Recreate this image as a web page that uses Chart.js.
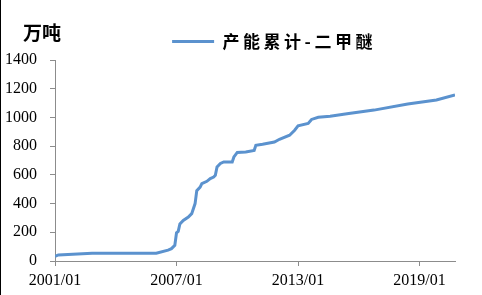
<!DOCTYPE html>
<html>
<head>
<meta charset="utf-8">
<script src="https://cdn.jsdelivr.net/npm/chart.js@4"></script>
<style>
html,body{margin:0;padding:0;background:#fff;}
#wrap{width:482px;height:295px;position:relative;}
</style>
</head>
<body>
<div id="wrap"><canvas id="c" width="482" height="295"></canvas></div>
<script>
const unitLabel = '万吨';
const seriesName = '产能累计-二甲醚';
const startDate = '2001/01';
const endDate = '2020/10';
const xTickLabels = ['2001/01', '2007/01', '2013/01', '2019/01'];
const yTickValues = [0, 200, 400, 600, 800, 1000, 1200, 1400];

const dates = [
  '2001/01','2001/03','2002/11','2006/01','2006/08','2006/10','2006/12',
  '2007/01','2007/02','2007/03','2007/05','2007/08','2007/10','2007/12',
  '2008/01','2008/03','2008/04','2008/07','2008/09','2008/11','2008/12',
  '2009/01','2009/03','2009/05','2009/10','2009/11','2010/01','2010/06',
  '2010/11','2010/12','2011/04','2011/11','2012/02','2012/08','2012/11',
  '2013/01','2013/07','2013/09','2014/01','2014/08','2015/06','2016/10',
  '2018/06','2019/11','2020/10'
];
const capacity = [
  33, 42, 54, 54, 76, 86, 110,
  196, 206, 258, 283, 306, 330, 400,
  490, 515, 539, 555, 574, 585, 597,
  655, 679, 690, 690, 725, 756, 760,
  770, 806, 813, 829, 848, 876, 911,
  941, 958, 986, 1001, 1008, 1025, 1051,
  1093, 1121, 1156
];

function monthIndex(s) {
  const p = s.split('/').map(Number);
  const b = startDate.split('/').map(Number);
  return (p[0] - b[0]) * 12 + (p[1] - b[1]);
}

const points = dates.map((d, i) => ({ x: monthIndex(d), y: capacity[i] }));
const lineColor = 'rgb(91,146,206)';
const axisColor = '#8c8c8c';

const framePlugin = {
  id: 'frame',
  beforeDraw(chart) {
    const ctx = chart.ctx;
    ctx.save();
    ctx.fillStyle = '#000';
    ctx.fillRect(0, 0, 1, chart.height);
    ctx.restore();
    const lg = chart.legend;
    if (lg && !lg._spaced) {
      const orig = lg.draw;
      lg.draw = function () {
        const c = this.ctx;
        c.save();
        c.translate(5, 0);
        c.letterSpacing = '3.5px';
        orig.apply(this, arguments);
        c.restore();
      };
      lg._spaced = true;
    }
  },
  afterDraw(chart) {
    const ctx = chart.ctx;
    ctx.save();
    ctx.fillStyle = '#000';
    ctx.font = 'bold 19px "Noto Sans CJK SC"';
    ctx.textAlign = 'left';
    ctx.textBaseline = 'middle';
    ctx.fillText(unitLabel, 23, 33);
    ctx.restore();
  }
};

new Chart(document.getElementById('c'), {
  type: 'line',
  data: {
    datasets: [{
      label: seriesName,
      data: points,
      borderColor: lineColor,
      backgroundColor: lineColor,
      borderWidth: 3,
      pointRadius: 0,
      tension: 0,
      fill: false
    }]
  },
  options: {
    responsive: false,
    devicePixelRatio: 1,
    animation: false,
    layout: { padding: { left: 5, right: 27, top: 23, bottom: 5 } },
    plugins: {
      legend: {
        position: 'top',
        fullSize: false,
        align: 'center',
        labels: {
          color: '#000',
          font: { family: '"Noto Sans CJK SC"', size: 17, weight: 'bold' },
          usePointStyle: true,
          pointStyle: 'line',
          pointStyleWidth: 42,
          padding: 10
        }
      },
      tooltip: { enabled: false }
    },
    scales: {
      x: {
        type: 'linear',
        min: monthIndex(startDate),
        max: monthIndex(endDate),
        afterBuildTicks(scale) {
          scale.ticks = xTickLabels.map(l => ({ value: monthIndex(l) }));
        },
        afterFit(scale) { scale.height = 29; },
        grid: { drawOnChartArea: false, drawTicks: true, tickLength: 5, color: axisColor },
        border: { display: true, color: axisColor },
        ticks: {
          color: '#000',
          font: { family: '"Liberation Serif"', size: 16 },
          padding: 5,
          maxRotation: 0,
          autoSkip: false,
          callback(v) {
            const l = xTickLabels.find(t => monthIndex(t) === v);
            return l || '';
          }
        }
      },
      y: {
        min: yTickValues[0],
        max: yTickValues[yTickValues.length - 1],
        afterBuildTicks(scale) {
          scale.ticks = yTickValues.map(v => ({ value: v }));
        },
        afterFit(scale) { scale.width = 50; },
        grid: { drawOnChartArea: false, drawTicks: true, tickLength: 5, color: axisColor },
        border: { display: true, color: axisColor },
        ticks: {
          color: '#000',
          font: { family: '"Liberation Serif"', size: 16 },
          padding: 13,
          callback(v) { return String(v); }
        }
      }
    }
  },
  plugins: [framePlugin]
});
</script>
</body>
</html>
